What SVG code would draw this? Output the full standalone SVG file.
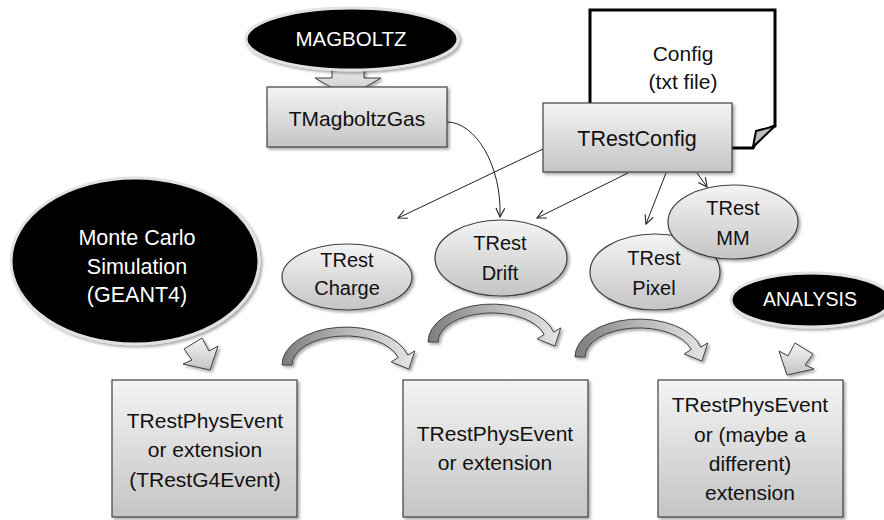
<svg xmlns="http://www.w3.org/2000/svg" width="884" height="520" viewBox="0 0 884 520">
<defs>
<linearGradient id="gBox" x1="0" y1="0" x2="0" y2="1"><stop offset="0" stop-color="#f4f4f4"/><stop offset="1" stop-color="#c4c4c4"/></linearGradient>
<linearGradient id="gCurve" x1="0" y1="0" x2="1" y2="0"><stop offset="0" stop-color="#7c7c7c"/><stop offset="0.5" stop-color="#b8b8b8"/><stop offset="1" stop-color="#e6e6e6"/></linearGradient>
<filter id="sh" x="-10%" y="-10%" width="130%" height="130%"><feDropShadow dx="2" dy="2" stdDeviation="1.5" flood-color="#000" flood-opacity="0.35"/></filter>
<marker id="ah" viewBox="0 0 10 10" refX="9" refY="5" markerWidth="11" markerHeight="11" markerUnits="userSpaceOnUse" orient="auto"><path d="M1,1 L9,5 L1,9" fill="none" stroke="#222" stroke-width="1"/></marker>
<path id="curv" d="M0,0 A64,38 0 0 1 125.8,-9.8 L132.8,-14.1 L126.9,4.1 L109.2,-3.1 L116.2,-7.5 A54,29 0 0 0 10,0 Z"/>
</defs>
<style>
.box{fill:url(#gBox);stroke:#404040;stroke-width:1.2;filter:url(#sh)}
.ell{fill:url(#gBox);stroke:#404040;stroke-width:1.2;filter:url(#sh)}
.blk{fill:#000;stroke:#e2e2e2;stroke-width:3;filter:url(#sh)}
.t{font-family:"Liberation Sans",Arial,sans-serif;font-size:20px;fill:#111;text-anchor:middle}
.bt{font-size:21px}
.w{fill:#fff}
.con{fill:none;stroke:#222;stroke-width:1;marker-end:url(#ah)}
.barr{fill:url(#gBox);stroke:#404040;stroke-width:1;filter:url(#sh)}
.carr{fill:url(#gCurve);stroke:#404040;stroke-width:1;filter:url(#sh)}
</style>
<rect width="884" height="520" fill="#fff"/>

<g id="config-file">
<path d="M590,148 L590,10 L775,10 L775,126 Q762,130 753,148 Z" fill="#fff" stroke="#000" stroke-width="3"/>
<path d="M756,131 L775,126 L753,147 Z" fill="#bdbdbd" stroke="#000" stroke-width="2" stroke-linejoin="round"/>
<text class="t" x="683" y="61" style="font-size:21px">Config</text>
<text class="t" x="683" y="89" style="font-size:21px">(txt file)</text>
</g>

<g id="connectors">
<polygon class="barr" points="332,62 364,62 364,78 381,78 348,97 315,78 332,78"/>
<polygon class="barr" points="184,349 202,338 209,351 218,346 210,370 183,364 192,360"/>
<polygon class="barr" points="813,354 795,343 788,356 779,351 787,375 814,369 805,365"/>
<use href="#curv" class="carr" transform="translate(282,365)"/>
<use href="#curv" class="carr" transform="translate(428,342)"/>
<use href="#curv" class="carr" transform="translate(575,357)"/>
<path class="con" d="M447,122 C475,122 502,165 500,217"/>
<path class="con" d="M543,149 L398,218"/>
<path class="con" d="M628,173 L537,218"/>
<path class="con" d="M666,173 L646,224"/>
<path class="con" d="M697,173 L707,187"/>
</g>

<g id="magboltz">
<ellipse class="blk" cx="352" cy="39" rx="106" ry="31"/>
<text class="t w" x="351" y="46" style="font-size:20.5px">MAGBOLTZ</text>
</g>

<g id="tmagboltzgas">
<rect class="box" x="267" y="87" width="180" height="60"/>
<text class="t" x="357" y="126" style="font-size:21px">TMagboltzGas</text>
</g>

<g id="trestconfig">
<rect class="box" x="543" y="103" width="189" height="69"/>
<text class="t" x="637" y="146" style="font-size:21.5px">TRestConfig</text>
</g>

<g id="montecarlo">
<ellipse class="blk" cx="135" cy="261" rx="124" ry="83"/>
<text class="t w" x="137" y="245" style="font-size:21.5px">Monte Carlo</text>
<text class="t w" x="137" y="274" style="font-size:21.5px">Simulation</text>
<text class="t w" x="137" y="302" style="font-size:21.5px">(GEANT4)</text>
</g>

<g id="trest-charge">
<ellipse class="ell" cx="347" cy="277" rx="65" ry="33"/>
<text class="t" x="347" y="267">TRest</text>
<text class="t" x="347" y="295">Charge</text>
</g>

<g id="trest-drift">
<ellipse class="ell" cx="501" cy="258" rx="66" ry="38"/>
<text class="t" x="500" y="250">TRest</text>
<text class="t" x="500" y="280">Drift</text>
</g>

<g id="trest-pixel">
<ellipse class="ell" cx="655" cy="272" rx="65" ry="38"/>
<text class="t" x="654" y="265">TRest</text>
<text class="t" x="654" y="295">Pixel</text>
</g>

<g id="trest-mm">
<ellipse class="ell" cx="733" cy="222" rx="65" ry="37"/>
<text class="t" x="733" y="215">TRest</text>
<text class="t" x="733" y="245">MM</text>
</g>

<g id="analysis">
<ellipse class="blk" cx="811" cy="300" rx="80" ry="27"/>
<text class="t w" x="810" y="306" style="font-size:19.5px">ANALYSIS</text>
</g>

<g id="event1">
<rect class="box" x="112" y="380" width="185" height="137"/>
<text class="t bt" x="205" y="428">TRestPhysEvent</text>
<text class="t bt" x="205" y="457">or extension</text>
<text class="t bt" x="205" y="487">(TRestG4Event)</text>
</g>

<g id="event2">
<rect class="box" x="403" y="380" width="185" height="137"/>
<text class="t bt" x="495" y="441">TRestPhysEvent</text>
<text class="t bt" x="495" y="470">or extension</text>
</g>

<g id="event3">
<rect class="box" x="658" y="380" width="185" height="137"/>
<text class="t bt" x="750" y="412">TRestPhysEvent</text>
<text class="t bt" x="750" y="442">or (maybe a</text>
<text class="t bt" x="750" y="471">different)</text>
<text class="t bt" x="750" y="500">extension</text>
</g>
</svg>
